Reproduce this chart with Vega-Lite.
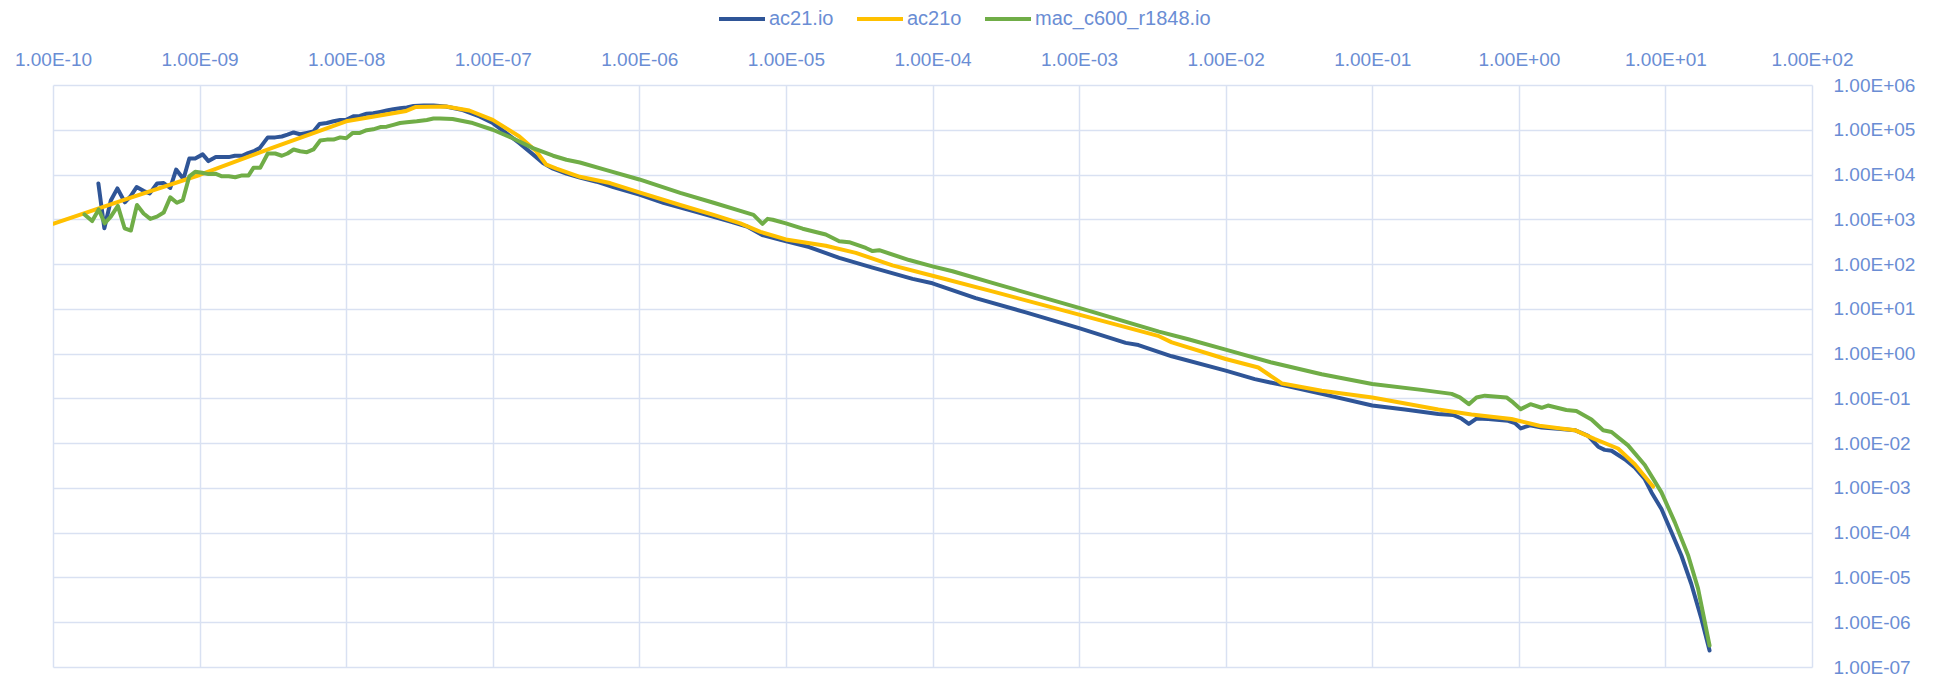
{
  "$schema": "https://vega.github.io/schema/vega-lite/v6.json",
  "autosize": "none",
  "width": 1759,
  "height": 582,
  "padding": {"left": 53, "top": 85, "right": 132, "bottom": 14},
  "background": "white",
  "config": {"view": {"stroke": null}, "font": "Liberation Sans"},
  "data": {"values": [
    {"s":"ac21.io","x":2.04e-10,"y":6310},{"s":"ac21.io","x":2.24e-10,"y":631},{"s":"ac21.io","x":2.48e-10,"y":2630},{"s":"ac21.io","x":2.75e-10,"y":4900},{"s":"ac21.io","x":3.09e-10,"y":2400},{"s":"ac21.io","x":3.39e-10,"y":3310},{"s":"ac21.io","x":3.72e-10,"y":5250},{"s":"ac21.io","x":4.17e-10,"y":4270},{"s":"ac21.io","x":4.57e-10,"y":3800},{"s":"ac21.io","x":5.13e-10,"y":6310},{"s":"ac21.io","x":5.69e-10,"y":6460},{"s":"ac21.io","x":6.31e-10,"y":5010},{"s":"ac21.io","x":6.92e-10,"y":12900},{"s":"ac21.io","x":7.76e-10,"y":7940},{"s":"ac21.io","x":8.51e-10,"y":22900},{"s":"ac21.io","x":9.33e-10,"y":22900},
    {"s":"ac21.io","x":1.05e-9,"y":28200},{"s":"ac21.io","x":1.15e-9,"y":19950},{"s":"ac21.io","x":1.29e-9,"y":24500},{"s":"ac21.io","x":1.41e-9,"y":24500},{"s":"ac21.io","x":1.58e-9,"y":24500},{"s":"ac21.io","x":1.74e-9,"y":26300},{"s":"ac21.io","x":1.95e-9,"y":26300},{"s":"ac21.io","x":2.14e-9,"y":30200},{"s":"ac21.io","x":2.37e-9,"y":33900},{"s":"ac21.io","x":2.57e-9,"y":38900},{"s":"ac21.io","x":2.92e-9,"y":67600},{"s":"ac21.io","x":3.28e-9,"y":67600},{"s":"ac21.io","x":3.64e-9,"y":70800},{"s":"ac21.io","x":3.98e-9,"y":77600},{"s":"ac21.io","x":4.38e-9,"y":87100},{"s":"ac21.io","x":4.85e-9,"y":79400},{"s":"ac21.io","x":5.40e-9,"y":85100},{"s":"ac21.io","x":5.98e-9,"y":91200},{"s":"ac21.io","x":6.58e-9,"y":134900},{"s":"ac21.io","x":7.38e-9,"y":141300},{"s":"ac21.io","x":8.20e-9,"y":154900},{"s":"ac21.io","x":9.10e-9,"y":166000},
    {"s":"ac21.io","x":1.0e-8,"y":166000},{"s":"ac21.io","x":1.12e-8,"y":199500},{"s":"ac21.io","x":1.24e-8,"y":204200},{"s":"ac21.io","x":1.38e-8,"y":229100},{"s":"ac21.io","x":1.53e-8,"y":234400},{"s":"ac21.io","x":1.71e-8,"y":251200},{"s":"ac21.io","x":1.89e-8,"y":269200},{"s":"ac21.io","x":2.10e-8,"y":288400},{"s":"ac21.io","x":2.33e-8,"y":302000},{"s":"ac21.io","x":2.59e-8,"y":316200},{"s":"ac21.io","x":2.88e-8,"y":338800},{"s":"ac21.io","x":3.37e-8,"y":346700},{"s":"ac21.io","x":3.94e-8,"y":346700},{"s":"ac21.io","x":4.79e-8,"y":331100},{"s":"ac21.io","x":6.24e-8,"y":275400},{"s":"ac21.io","x":8.11e-8,"y":199500},
    {"s":"ac21.io","x":1.0e-7,"y":141300},{"s":"ac21.io","x":1.23e-7,"y":85100},{"s":"ac21.io","x":1.52e-7,"y":50100},{"s":"ac21.io","x":1.88e-7,"y":28200},{"s":"ac21.io","x":2.20e-7,"y":18200},{"s":"ac21.io","x":2.58e-7,"y":13490},{"s":"ac21.io","x":3.18e-7,"y":10470},{"s":"ac21.io","x":3.93e-7,"y":8510},{"s":"ac21.io","x":5.11e-7,"y":6920},{"s":"ac21.io","x":6.64e-7,"y":5250},
    {"s":"ac21.io","x":1.0e-6,"y":3550},{"s":"ac21.io","x":1.46e-6,"y":2340},{"s":"ac21.io","x":2.47e-6,"y":1445},{"s":"ac21.io","x":4.18e-6,"y":891},{"s":"ac21.io","x":5.43e-6,"y":692},{"s":"ac21.io","x":6.89e-6,"y":447},{"s":"ac21.io","x":9.18e-6,"y":347},
    {"s":"ac21.io","x":1.44e-5,"y":240},{"s":"ac21.io","x":2.31e-5,"y":138},{"s":"ac21.io","x":3.90e-5,"y":83.2},{"s":"ac21.io","x":7.31e-5,"y":46.8},{"s":"ac21.io","x":1.0e-4,"y":37.2},{"s":"ac21.io","x":1.97e-4,"y":17.4},{"s":"ac21.io","x":4.33e-4,"y":8.32},{"s":"ac21.io","x":1.0e-3,"y":3.72},{"s":"ac21.io","x":2.08e-3,"y":1.74},{"s":"ac21.io","x":2.54e-3,"y":1.55},{"s":"ac21.io","x":4.29e-3,"y":0.871},
    {"s":"ac21.io","x":0.01,"y":0.417},{"s":"ac21.io","x":0.0158,"y":0.269},{"s":"ac21.io","x":0.0241,"y":0.2},{"s":"ac21.io","x":0.0452,"y":0.126},{"s":"ac21.io","x":0.1,"y":0.0692},{"s":"ac21.io","x":0.167,"y":0.0562},{"s":"ac21.io","x":0.282,"y":0.0447},{"s":"ac21.io","x":0.356,"y":0.0427},{"s":"ac21.io","x":0.406,"y":0.0355},{"s":"ac21.io","x":0.456,"y":0.0269},{"s":"ac21.io","x":0.514,"y":0.0355},{"s":"ac21.io","x":0.618,"y":0.0347},{"s":"ac21.io","x":0.845,"y":0.0316},{"s":"ac21.io","x":0.94,"y":0.0282},
    {"s":"ac21.io","x":1.03,"y":0.0214},{"s":"ac21.io","x":1.19,"y":0.0251},{"s":"ac21.io","x":1.43,"y":0.0224},{"s":"ac21.io","x":1.85,"y":0.0209},{"s":"ac21.io","x":2.41,"y":0.0195},{"s":"ac21.io","x":2.97,"y":0.0145},{"s":"ac21.io","x":3.48,"y":0.00832},{"s":"ac21.io","x":3.85,"y":0.00708},{"s":"ac21.io","x":4.29,"y":0.00676},{"s":"ac21.io","x":5.28,"y":0.00437},{"s":"ac21.io","x":6.18,"y":0.00288},{"s":"ac21.io","x":7.23,"y":0.00158},{"s":"ac21.io","x":8.04,"y":0.000794},{"s":"ac21.io","x":9.40,"y":0.000339},{"s":"ac21.io","x":11.0,"y":0.000102},{"s":"ac21.io","x":12.85,"y":3.09e-5},{"s":"ac21.io","x":15.0,"y":7.24e-6},{"s":"ac21.io","x":17.6,"y":1.2e-6},{"s":"ac21.io","x":20.0,"y":2.34e-7},
    {"s":"ac21o","x":1e-10,"y":794},{"s":"ac21o","x":3.16e-10,"y":2818},{"s":"ac21o","x":1e-9,"y":9772},{"s":"ac21o","x":3.16e-9,"y":39810},{"s":"ac21o","x":1e-8,"y":154900},{"s":"ac21o","x":2.57e-8,"y":263000},{"s":"ac21o","x":2.99e-8,"y":323600},{"s":"ac21o","x":4.79e-8,"y":331100},{"s":"ac21o","x":6.92e-8,"y":269200},
    {"s":"ac21o","x":1e-7,"y":166000},{"s":"ac21o","x":1.52e-7,"y":70800},{"s":"ac21o","x":1.98e-7,"y":33100},{"s":"ac21o","x":2.32e-7,"y":16600},{"s":"ac21o","x":2.72e-7,"y":13490},{"s":"ac21o","x":3.93e-7,"y":8913},{"s":"ac21o","x":6.31e-7,"y":6457},
    {"s":"ac21o","x":1e-6,"y":3981},{"s":"ac21o","x":1.9e-6,"y":2089},{"s":"ac21o","x":3.21e-6,"y":1259},{"s":"ac21o","x":4.89e-6,"y":813},{"s":"ac21o","x":6.7e-6,"y":525},
    {"s":"ac21o","x":1e-5,"y":355},{"s":"ac21o","x":1.87e-5,"y":257},{"s":"ac21o","x":3.0e-5,"y":178},{"s":"ac21o","x":5.33e-5,"y":93.3},{"s":"ac21o","x":1e-4,"y":55.0},{"s":"ac21o","x":2.56e-4,"y":24.5},{"s":"ac21o","x":1e-3,"y":7.41},{"s":"ac21o","x":3.51e-3,"y":2.45},{"s":"ac21o","x":4.29e-3,"y":1.78},
    {"s":"ac21o","x":0.01,"y":0.759},{"s":"ac21o","x":0.0167,"y":0.49},{"s":"ac21o","x":0.0243,"y":0.214},{"s":"ac21o","x":0.0452,"y":0.148},{"s":"ac21o","x":0.1,"y":0.105},{"s":"ac21o","x":0.282,"y":0.0562},{"s":"ac21o","x":0.475,"y":0.0437},{"s":"ac21o","x":0.891,"y":0.0347},
    {"s":"ac21o","x":1.38,"y":0.0245},{"s":"ac21o","x":2.41,"y":0.0195},{"s":"ac21o","x":3.30,"y":0.0123},{"s":"ac21o","x":4.75,"y":0.00759},{"s":"ac21o","x":6.18,"y":0.00339},{"s":"ac21o","x":8.24,"y":0.00107},
    {"s":"mac_c600_r1848.io","x":1.64e-10,"y":1288},{"s":"mac_c600_r1848.io","x":1.85e-10,"y":912},{"s":"mac_c600_r1848.io","x":2.05e-10,"y":1660},{"s":"mac_c600_r1848.io","x":2.25e-10,"y":813},{"s":"mac_c600_r1848.io","x":2.48e-10,"y":1148},{"s":"mac_c600_r1848.io","x":2.77e-10,"y":1995},{"s":"mac_c600_r1848.io","x":3.08e-10,"y":631},{"s":"mac_c600_r1848.io","x":3.40e-10,"y":562},{"s":"mac_c600_r1848.io","x":3.74e-10,"y":2089},{"s":"mac_c600_r1848.io","x":4.15e-10,"y":1349},{"s":"mac_c600_r1848.io","x":4.61e-10,"y":1023},{"s":"mac_c600_r1848.io","x":5.12e-10,"y":1148},{"s":"mac_c600_r1848.io","x":5.69e-10,"y":1413},{"s":"mac_c600_r1848.io","x":6.31e-10,"y":3090},{"s":"mac_c600_r1848.io","x":7.0e-10,"y":2344},{"s":"mac_c600_r1848.io","x":7.69e-10,"y":2692},{"s":"mac_c600_r1848.io","x":8.51e-10,"y":9120},{"s":"mac_c600_r1848.io","x":9.33e-10,"y":11480},
    {"s":"mac_c600_r1848.io","x":1.04e-9,"y":10960},{"s":"mac_c600_r1848.io","x":1.15e-9,"y":10230},{"s":"mac_c600_r1848.io","x":1.28e-9,"y":10470},{"s":"mac_c600_r1848.io","x":1.42e-9,"y":9120},{"s":"mac_c600_r1848.io","x":1.58e-9,"y":9120},{"s":"mac_c600_r1848.io","x":1.75e-9,"y":8710},{"s":"mac_c600_r1848.io","x":1.95e-9,"y":9550},{"s":"mac_c600_r1848.io","x":2.16e-9,"y":9550},{"s":"mac_c600_r1848.io","x":2.33e-9,"y":14130},{"s":"mac_c600_r1848.io","x":2.59e-9,"y":14130},{"s":"mac_c600_r1848.io","x":2.92e-9,"y":29510},{"s":"mac_c600_r1848.io","x":3.28e-9,"y":29510},{"s":"mac_c600_r1848.io","x":3.64e-9,"y":26300},{"s":"mac_c600_r1848.io","x":3.98e-9,"y":29510},{"s":"mac_c600_r1848.io","x":4.38e-9,"y":36310},{"s":"mac_c600_r1848.io","x":4.85e-9,"y":33110},{"s":"mac_c600_r1848.io","x":5.40e-9,"y":31620},{"s":"mac_c600_r1848.io","x":5.98e-9,"y":36310},{"s":"mac_c600_r1848.io","x":6.65e-9,"y":57540},{"s":"mac_c600_r1848.io","x":7.38e-9,"y":60260},{"s":"mac_c600_r1848.io","x":8.20e-9,"y":60260},{"s":"mac_c600_r1848.io","x":9.10e-9,"y":67610},
    {"s":"mac_c600_r1848.io","x":1e-8,"y":64570},{"s":"mac_c600_r1848.io","x":1.11e-8,"y":85110},{"s":"mac_c600_r1848.io","x":1.24e-8,"y":85110},{"s":"mac_c600_r1848.io","x":1.38e-8,"y":97720},{"s":"mac_c600_r1848.io","x":1.53e-8,"y":102300},{"s":"mac_c600_r1848.io","x":1.71e-8,"y":114800},{"s":"mac_c600_r1848.io","x":1.89e-8,"y":117500},{"s":"mac_c600_r1848.io","x":2.10e-8,"y":128800},{"s":"mac_c600_r1848.io","x":2.33e-8,"y":141300},{"s":"mac_c600_r1848.io","x":2.59e-8,"y":147900},{"s":"mac_c600_r1848.io","x":3.03e-8,"y":154900},{"s":"mac_c600_r1848.io","x":3.55e-8,"y":166000},{"s":"mac_c600_r1848.io","x":3.94e-8,"y":177800},{"s":"mac_c600_r1848.io","x":4.37e-8,"y":177800},{"s":"mac_c600_r1848.io","x":5.32e-8,"y":173800},{"s":"mac_c600_r1848.io","x":7.30e-8,"y":141300},
    {"s":"mac_c600_r1848.io","x":1e-7,"y":100000},{"s":"mac_c600_r1848.io","x":1.37e-7,"y":64570},{"s":"mac_c600_r1848.io","x":1.88e-7,"y":38900},{"s":"mac_c600_r1848.io","x":2.58e-7,"y":26300},{"s":"mac_c600_r1848.io","x":3.18e-7,"y":21380},{"s":"mac_c600_r1848.io","x":3.93e-7,"y":18620},{"s":"mac_c600_r1848.io","x":5.97e-7,"y":12590},
    {"s":"mac_c600_r1848.io","x":1e-6,"y":7762},{"s":"mac_c600_r1848.io","x":1.9e-6,"y":3890},{"s":"mac_c600_r1848.io","x":3.21e-6,"y":2344},{"s":"mac_c600_r1848.io","x":4.89e-6,"y":1549},{"s":"mac_c600_r1848.io","x":6.01e-6,"y":1259},{"s":"mac_c600_r1848.io","x":6.92e-6,"y":794},{"s":"mac_c600_r1848.io","x":7.5e-6,"y":1023},{"s":"mac_c600_r1848.io","x":8.13e-6,"y":977},
    {"s":"mac_c600_r1848.io","x":1e-5,"y":813},{"s":"mac_c600_r1848.io","x":1.3e-5,"y":617},{"s":"mac_c600_r1848.io","x":1.87e-5,"y":457},{"s":"mac_c600_r1848.io","x":2.31e-5,"y":324},{"s":"mac_c600_r1848.io","x":2.7e-5,"y":309},{"s":"mac_c600_r1848.io","x":3.51e-5,"y":229},{"s":"mac_c600_r1848.io","x":3.9e-5,"y":195},{"s":"mac_c600_r1848.io","x":4.33e-5,"y":204},{"s":"mac_c600_r1848.io","x":6.93e-5,"y":123},
    {"s":"mac_c600_r1848.io","x":1e-4,"y":89.1},{"s":"mac_c600_r1848.io","x":1.37e-4,"y":69.2},{"s":"mac_c600_r1848.io","x":2.56e-4,"y":38.0},{"s":"mac_c600_r1848.io","x":1e-3,"y":10.5},{"s":"mac_c600_r1848.io","x":3.51e-3,"y":3.09},{"s":"mac_c600_r1848.io","x":5.56e-3,"y":2.09},
    {"s":"mac_c600_r1848.io","x":0.01,"y":1.23},{"s":"mac_c600_r1848.io","x":0.0206,"y":0.631},{"s":"mac_c600_r1848.io","x":0.0452,"y":0.347},{"s":"mac_c600_r1848.io","x":0.1,"y":0.209},{"s":"mac_c600_r1848.io","x":0.217,"y":0.155},{"s":"mac_c600_r1848.io","x":0.348,"y":0.126},{"s":"mac_c600_r1848.io","x":0.396,"y":0.105},{"s":"mac_c600_r1848.io","x":0.456,"y":0.0741},{"s":"mac_c600_r1848.io","x":0.514,"y":0.105},{"s":"mac_c600_r1848.io","x":0.586,"y":0.115},{"s":"mac_c600_r1848.io","x":0.824,"y":0.105},{"s":"mac_c600_r1848.io","x":0.914,"y":0.0813},
    {"s":"mac_c600_r1848.io","x":1.03,"y":0.0575},{"s":"mac_c600_r1848.io","x":1.20,"y":0.0741},{"s":"mac_c600_r1848.io","x":1.43,"y":0.0617},{"s":"mac_c600_r1848.io","x":1.58,"y":0.0692},{"s":"mac_c600_r1848.io","x":2.11,"y":0.055},{"s":"mac_c600_r1848.io","x":2.47,"y":0.0525},{"s":"mac_c600_r1848.io","x":3.13,"y":0.0339},{"s":"mac_c600_r1848.io","x":3.76,"y":0.0195},{"s":"mac_c600_r1848.io","x":4.29,"y":0.0178},{"s":"mac_c600_r1848.io","x":5.56,"y":0.00891},{"s":"mac_c600_r1848.io","x":7.23,"y":0.00324},{"s":"mac_c600_r1848.io","x":9.40,"y":0.000794},{"s":"mac_c600_r1848.io","x":11.6,"y":0.00017},{"s":"mac_c600_r1848.io","x":14.3,"y":3.09e-5},{"s":"mac_c600_r1848.io","x":16.7,"y":5.62e-6},{"s":"mac_c600_r1848.io","x":20.0,"y":3.02e-7}
  ]},
  "mark": {"type": "line", "strokeWidth": 4, "strokeJoin": "round", "strokeCap": "round", "clip": true},
  "encoding": {
    "x": {
      "field": "x", "type": "quantitative",
      "scale": {"type": "log", "domain": [1e-10, 100], "nice": false},
      "axis": {
        "orient": "top", "title": null,
        "values": [1e-10,1e-9,1e-8,1e-7,1e-6,1e-5,1e-4,1e-3,1e-2,1e-1,1,10,100],
        "labelExpr": "'1.00E' + (datum.value < 1 ? '-' : '+') + (abs(round(log(datum.value)/LN10)) < 10 ? '0' : '') + abs(round(log(datum.value)/LN10))",
        "grid": true, "gridColor": "#D9E1F2", "gridWidth": 1.5,
        "domain": false, "ticks": false,
        "labelFont": "Liberation Sans", "labelFontSize": 19, "labelColor": "#6A8DD4",
        "labelPadding": 16, "labelFlush": false, "labelOverlap": false
      }
    },
    "y": {
      "field": "y", "type": "quantitative",
      "scale": {"type": "log", "domain": [1e-7, 1e6], "nice": false},
      "axis": {
        "orient": "right", "title": null,
        "values": [1e-7,1e-6,1e-5,1e-4,1e-3,1e-2,1e-1,1,10,100,1000,10000,100000,1000000],
        "labelExpr": "'1.00E' + (datum.value < 1 ? '-' : '+') + (abs(round(log(datum.value)/LN10)) < 10 ? '0' : '') + abs(round(log(datum.value)/LN10))",
        "grid": true, "gridColor": "#D9E1F2", "gridWidth": 1.5,
        "domain": false, "ticks": false,
        "labelFont": "Liberation Sans", "labelFontSize": 19, "labelColor": "#6A8DD4",
        "labelPadding": 21, "labelFlush": false, "labelOverlap": false
      }
    },
    "color": {
      "field": "s", "type": "nominal",
      "scale": {"domain": ["ac21.io", "ac21o", "mac_c600_r1848.io"], "range": ["#2F5597", "#FFC000", "#70AD47"]},
      "legend": {
        "title": null, "orient": "none", "direction": "horizontal", "columns": 3,
        "legendX": 664, "legendY": -91,
        "symbolType": "stroke", "symbolSize": 2116, "symbolStrokeWidth": 4,
        "labelFont": "Liberation Sans", "labelFontSize": 20, "labelColor": "#6A8DD4",
        "labelLimit": 0, "labelOffset": 2, "columnPadding": 15, "padding": 0
      }
    }
  }
}
